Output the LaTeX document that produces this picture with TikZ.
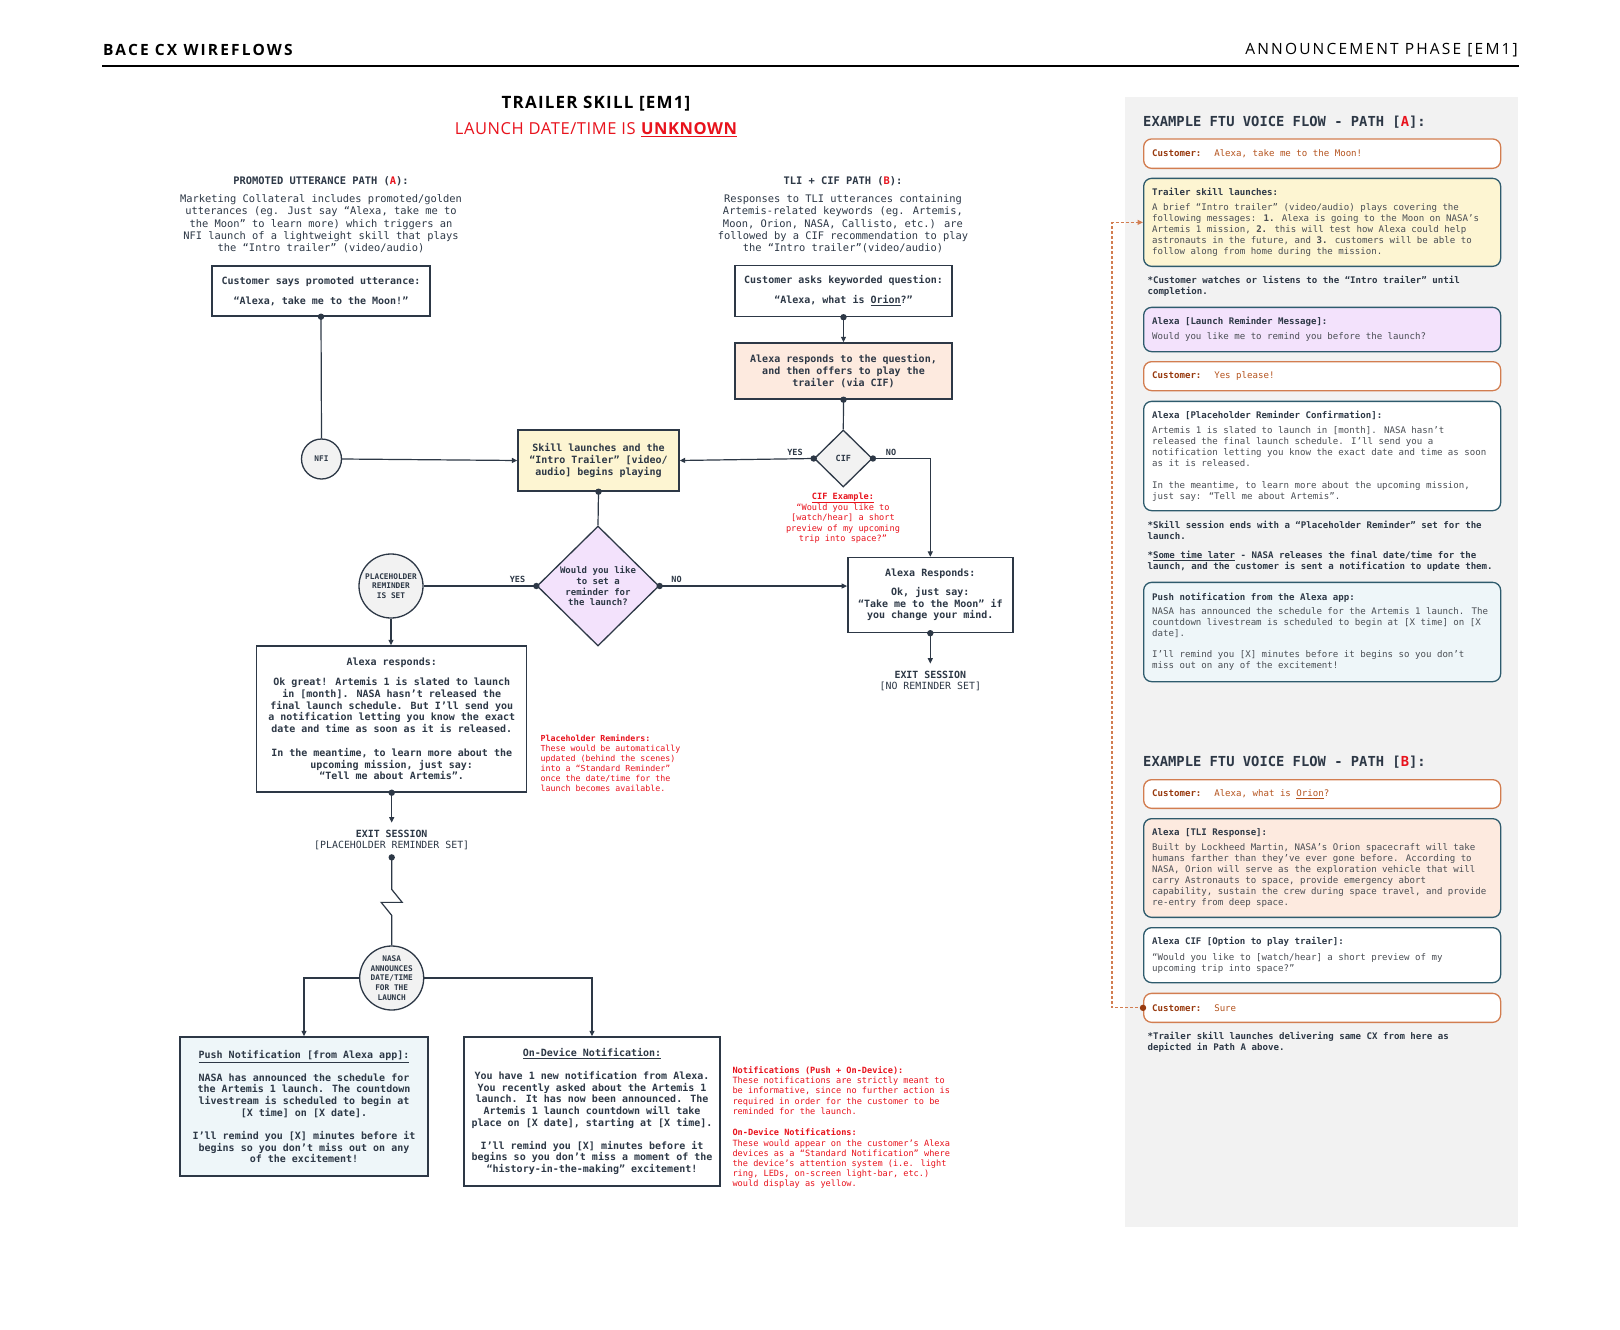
\documentclass[tikz,border=0pt]{standalone}
\usepackage{fontspec}
\setmainfont{DejaVu Sans Mono}
\newfontfamily\hdsans[LetterSpace=14]{Open Sans}
\newfontfamily\ttlsans[LetterSpace=7]{Open Sans}
\newfontfamily\subsans[LetterSpace=3.5]{Open Sans}
\usetikzlibrary{arrows.meta,shapes.geometric,calc}
\definecolor{ink}{HTML}{2D3846}
\definecolor{redc}{HTML}{E8121C}
\definecolor{yel}{HTML}{FDF5D2}
\definecolor{org}{HTML}{FDEADF}
\definecolor{lav}{HTML}{F3E2FC}
\definecolor{gry}{HTML}{F2F2F2}
\definecolor{blu}{HTML}{EEF6F9}
\definecolor{tealb}{HTML}{2E5B6D}
\definecolor{cbord}{HTML}{D27D50}
\definecolor{cdark}{HTML}{983A0F}
\definecolor{ctext}{HTML}{B5541F}
\definecolor{panel}{HTML}{F2F2F2}
\definecolor{pgray}{HTML}{4A4E54}
\newcommand\fMain{\fontsize{10}{11.7}\selectfont\bfseries}
\newcommand\fDesc{\fontsize{10.4}{12.3}\selectfont}
\newcommand\fSec{\fontsize{10.4}{12.3}\selectfont\bfseries}
\newcommand\fRed{\fontsize{8.6}{10.2}\selectfont}
\newcommand\fPan{\fontsize{9.1}{11}\selectfont}
\newcommand\fCirc{\fontsize{7.8}{9.7}\selectfont\bfseries}
\newcommand\fPanHead{\fontsize{13.8}{16}\selectfont\bfseries}
\newcommand\fExit{\fontsize{9.9}{11.7}\selectfont}
\newcommand\fLab{\fontsize{8.5}{10}\selectfont\bfseries}
\newcommand\rs{\spaceskip=0pt \xspaceskip=0pt\relax}
\begin{document}
\begin{tikzpicture}[x=1pt,y=-1pt,
  box/.style={draw=ink, line width=1.4pt, fill=white, align=center, inner sep=0pt, font=\fMain, text=ink},
  circ/.style={circle, draw=ink, line width=1.3pt, fill=gry, align=center, inner sep=0pt, font=\fCirc, text=ink},
  dia/.style={diamond, draw=ink, line width=1.3pt, align=center, inner sep=0pt, text=ink},
  ln/.style={draw=ink, line width=1.2pt},
  arr/.style={ln, -{Triangle[length=5.5pt,width=5pt]}},
  lab/.style={font=\fLab, text=ink},
  rednote/.style={font=\fRed, text=redc},
  pbox/.style={draw=tealb, line width=1.3pt, rounded corners=8pt, text width=340pt, inner xsep=8.5pt, inner ysep=0pt, align=flush left, anchor=north west, font=\fPan, text=pgray},
  cbox/.style={pbox, draw=cbord, fill=white},
  pnote/.style={font=\fPan\bfseries, text=ink, align=left, anchor=west}
]
\useasboundingbox (0,0) rectangle (1620,1330);
\fill[white] (0,0) rectangle (1620,1330);

% header
\node[anchor=west, font=\hdsans\fontsize{15.5}{18}\selectfont\bfseries, text=black, inner sep=0pt] (hl) at (103,50) {BACE CX WIREFLOWS};
\node[anchor=east, font=\hdsans\fontsize{15.5}{18}\selectfont, text=black, inner sep=0pt] (hr) at (1518,50) {ANNOUNCEMENT PHASE [EM1]};
\draw[line width=1.8pt, black] (102,66) -- (1519,66);

% titles
\node[font=\ttlsans\fontsize{17}{20}\selectfont\bfseries, text=black] (title) at (596,104) {TRAILER SKILL [EM1]};
\node[font=\subsans\fontsize{16.5}{20}\selectfont, text=redc] (sub) at (596,130) {LAUNCH DATE/TIME IS \textbf{\underline{UNKNOWN}}};

% section headings
\node[font=\fSec, text=ink] (secA) at (321,181) {PROMOTED UTTERANCE PATH (\textcolor{redc}{A}):};
\node[font=\fDesc, text=ink, align=center] (descA) at (321,224) {Marketing Collateral includes promoted/golden\\utterances (eg. Just say “Alexa, take me to\\the Moon” to learn more) which triggers an\\NFI launch of a lightweight skill that plays\\the “Intro trailer” (video/audio)};
\node[font=\fSec, text=ink] (secB) at (843,181) {TLI + CIF PATH (\textcolor{redc}{B}):};
\node[font=\fDesc, text=ink, align=center] (descB) at (843,224) {Responses to TLI utterances containing\\Artemis-related keywords (eg. Artemis,\\Moon, Orion, NASA, Callisto, etc.) are\\followed by a CIF recommendation to play\\the “Intro trailer”(video/audio)};

% main flow nodes
\node[box, minimum width=218, minimum height=50] (b1) at (321,291) {Customer says promoted utterance:\\[8.3pt]“Alexa, take me to the Moon!”};
\node[box, minimum width=217, minimum height=51] (b2) at (843.5,291) {Customer asks keyworded question:\\[8.3pt]“Alexa, what is \underline{Orion}?”};
\node[box, fill=org, minimum width=217, minimum height=56] (b3) at (843.5,371) {Alexa responds to the question,\\and then offers to play the\\trailer (via CIF)};
\node[dia, fill=gry, minimum width=58, minimum height=57, font=\fLab] (cif) at (843.3,458.5) {CIF};
\node[circ, minimum size=40] (nfi) at (321.5,459) {NFI};
\node[box, fill=yel, minimum width=161, minimum height=61] (skill) at (598.5,460.5) {Skill launches and the\\“Intro Trailer” [video/\\audio] begins playing};
\node[dia, fill=lav, minimum width=122, minimum height=120, font=\fontsize{9}{10.8}\selectfont\bfseries] (rem) at (598,586) {Would you like\\to set a\\reminder for\\the launch?};
\node[circ, minimum size=64] (ph) at (391,586) {PLACEHOLDER\\REMINDER\\IS SET};
\node[box, minimum width=165, minimum height=75] (resp) at (930.3,595) {Alexa Responds:\\[7.3pt]Ok, just say:\\“Take me to the Moon” if\\you change your mind.};
\node[font=\fExit, text=ink, align=center, inner xsep=2pt, inner ysep=7pt] (exitR) at (930.3,681) {\textbf{EXIT SESSION}\\{}[NO REMINDER SET]};
\node[box, minimum width=270, minimum height=146] (alexaL) at (391.7,719) {Alexa responds:\\[8.3pt]Ok great! Artemis 1 is slated to launch\\in [month]. NASA hasn’t released the\\final launch schedule. But I’ll send you\\a notification letting you know the exact\\date and time as soon as it is released.\\[12.3pt]In the meantime, to learn more about the\\upcoming mission, just say:\\“Tell me about Artemis”.};
\node[font=\fExit, text=ink, align=center, inner xsep=2pt, inner ysep=7pt] (exitL) at (391.7,840) {\textbf{EXIT SESSION}\\{}[PLACEHOLDER REMINDER SET]};
\node[circ, minimum size=64] (nasa) at (391.7,978) {NASA\\ANNOUNCES\\DATE/TIME\\FOR THE\\LAUNCH};
\node[box, fill=blu, minimum width=248, minimum height=139] (push) at (304,1106.5) {\underline{Push Notification [from Alexa app]:}\\[11.3pt]NASA has announced the schedule for\\the Artemis 1 launch. The countdown\\livestream is scheduled to begin at\\{}[X time] on [X date].\\[11.3pt]I’ll remind you [X] minutes before it\\begins so you don’t miss out on any\\of the excitement!};
\node[box, minimum width=256, minimum height=149] (ondev) at (592,1111.5) {\underline{On-Device Notification:}\\[11.3pt]You have 1 new notification from Alexa.\\You recently asked about the Artemis 1\\launch. It has now been announced. The\\Artemis 1 launch countdown will take\\place on [X date], starting at [X time].\\[11.3pt]I’ll remind you [X] minutes before it\\begins so you don’t miss a moment of the\\“history-in-the-making” excitement!};

% labels
\node[lab] (yes1) at (795,452) {YES};
\node[lab] (no1) at (891,452) {NO};
\node[lab] (yes2) at (517.5,579) {YES};
\node[lab] (no2) at (676.5,579) {NO};

% red notes
\node[rednote, align=center] (cifex) at (843,518) {\textbf{\underline{CIF Example:}}\\“Would you like to\\{}[watch/hear] a short\\preview of my upcoming\\trip into space?”};
\node[rednote, font=\fontsize{8.3}{10.1}\selectfont, align=left, anchor=west] (phnote) at (537,763) {\textbf{Placeholder Reminders:}\\These would be automatically\\updated (behind the scenes)\\into a “Standard Reminder”\\once the date/time for the\\launch becomes available.};
\node[rednote, align=left, anchor=west] (notif) at (729,1127.5) {\textbf{Notifications (Push + On-Device):}\\These notifications are strictly meant to\\be informative, since no further action is\\required in order for the customer to be\\reminded for the launch.\\[11.4pt]\textbf{On-Device Notifications:}\\These would appear on the customer’s Alexa\\devices as a “Standard Notification” where\\the device’s attention system (i.e. light\\ring, LEDs, on-screen light-bar, etc.)\\would display as yellow.};

% connectors
\draw[ln] (b1.south) -- (nfi.north);
\draw[arr] (nfi.east) -- (skill.west);
\draw[arr] (b2.south) -- (b3.north);
\draw[ln] (b3.south) -- (cif.north);
\draw[arr] (cif.west) -- (skill.east);
\draw[arr] (cif.east) -| (resp.north);
\draw[ln] (skill.south) -- (rem.north);
\draw[ln] (rem.west) -- (ph.east);
\draw[arr] (rem.east) -- (rem.east -| resp.west);
\draw[arr] (ph.south) -- (ph.south |- alexaL.north);
\draw[arr] (resp.south) -- (exitR.north);
\draw[arr] (alexaL.south) -- (exitL.north);
\draw[ln] (exitL.south) -- ++(0,32) -- ++(10.5,13) -- ++(-21,0) -- ++(10.5,13) -- (nasa.north);
\draw[arr] (nasa.west) -| (push.north);
\draw[arr] (nasa.east) -| (ondev.north);
\foreach \p in {b1.south, b2.south, b3.south, cif.west, cif.east, skill.south, rem.west, rem.east, resp.south, alexaL.south, exitL.south}
  \fill[ink] (\p) circle (3.2pt);

% right panel
\fill[panel] (1125,97) rectangle (1518,1227);
\node[anchor=west, font=\fPanHead, text=ink, inner sep=0pt] (ha) at (1143,121.7) {EXAMPLE FTU VOICE FLOW - PATH [\textcolor{redc}{A}]:};
\node[cbox, minimum height=29.4] (ca) at (1143,138.3) {\rs\textcolor{cdark}{\textbf{Customer:}}\hspace{5.5pt} \textcolor{ctext}{Alexa, take me to the Moon!}};
\node[pbox, fill=yel, minimum height=88] (tr) at (1143,177.7) {\rs\textcolor{ink}{\textbf{Trailer skill launches:}}\\[4.3pt]A brief “Intro trailer” (video/audio) plays covering the\\following messages: \textbf{1.} Alexa is going to the Moon on NASA’s\\Artemis 1 mission, \textbf{2.} this will test how Alexa could help\\astronauts in the future, and \textbf{3.} customers will be able to\\follow along from home during the mission.};
\node[pnote] (n1) at (1144,286.3) {*Customer watches or listens to the “Intro trailer” until\\completion.};
\node[pbox, fill=lav, minimum height=44.3] (lr) at (1143,306.7) {\rs\textcolor{ink}{\textbf{Alexa [Launch Reminder Message]:}}\\[4pt]Would you like me to remind you before the launch?};
\node[cbox, minimum height=29] (cy) at (1143,361) {\rs\textcolor{cdark}{\textbf{Customer:}}\hspace{5.5pt} \textcolor{ctext}{Yes please!}};
\node[pbox, fill=white, minimum height=109.3] (pc) at (1143,400.7) {\rs\textcolor{ink}{\textbf{Alexa [Placeholder Reminder Confirmation]:}}\\[4pt]Artemis 1 is slated to launch in [month]. NASA hasn’t\\released the final launch schedule. I’ll send you a\\notification letting you know the exact date and time as soon\\as it is released.\\[10.6pt]In the meantime, to learn more about the upcoming mission,\\just say: “Tell me about Artemis”.};
\node[pnote] (n2) at (1144,530.5) {*Skill session ends with a “Placeholder Reminder” set for the\\launch.};
\node[pnote] (n3) at (1144,561.3) {*\underline{Some time later} - NASA releases the final date/time for the\\launch, and the customer is sent a notification to update them.};
\node[pbox, fill=blu, minimum height=99.3] (pn) at (1143,581.7) {\rs\textcolor{ink}{\textbf{Push notification from the Alexa app:}}\\[3pt]NASA has announced the schedule for the Artemis 1 launch. The\\countdown livestream is scheduled to begin at [X time] on [X\\date].\\[10.3pt]I’ll remind you [X] minutes before it begins so you don’t\\miss out on any of the excitement!};
\node[anchor=west, font=\fPanHead, text=ink, inner sep=0pt] (hb) at (1143,761.7) {EXAMPLE FTU VOICE FLOW - PATH [\textcolor{redc}{B}]:};
\node[cbox, minimum height=28.7] (co) at (1143,779) {\rs\textcolor{cdark}{\textbf{Customer:}}\hspace{5.5pt} \textcolor{ctext}{Alexa, what is \underline{Orion}?}};
\node[pbox, fill=org, minimum height=98.7] (tli) at (1143,818) {\rs\textcolor{ink}{\textbf{Alexa [TLI Response]:}}\\[4pt]Built by Lockheed Martin, NASA’s Orion spacecraft will take\\humans farther than they’ve ever gone before. According to\\NASA, Orion will serve as the exploration vehicle that will\\carry Astronauts to space, provide emergency abort\\capability, sustain the crew during space travel, and provide\\re-entry from deep space.};
\node[pbox, fill=white, minimum height=55] (cifo) at (1143,927) {\rs\textcolor{ink}{\textbf{Alexa CIF [Option to play trailer]:}}\\[4.4pt]“Would you like to [watch/hear] a short preview of my\\upcoming trip into space?”};
\node[cbox, minimum height=29] (su) at (1143,992.7) {\rs\textcolor{cdark}{\textbf{Customer:}}\hspace{5.5pt} \textcolor{ctext}{Sure}};
\node[pnote] (n4) at (1144,1042.3) {*Trailer skill launches delivering same CX from here as\\depicted in Path A above.};

\draw[cbord, line width=1.1pt, dash pattern=on 3pt off 2pt, -{Triangle[length=5.5pt,width=5pt]}] (su.west) -- ++(-31,0) |- (tr.west);
\fill[cdark] (su.west) circle (3.2pt);
\end{tikzpicture}
\end{document}
